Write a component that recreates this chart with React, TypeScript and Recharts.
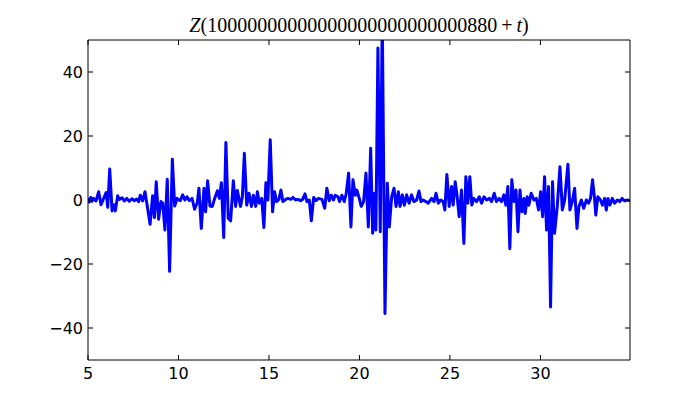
import React from 'react';
import { LineChart, Line, XAxis, YAxis } from 'recharts';

const tValues = [
  5.0, 5.08, 5.15, 5.22, 5.3, 5.44, 5.59, 5.72, 5.85, 6.0, 6.09, 6.2, 6.33, 6.44, 6.51, 6.64, 6.73, 6.88, 7.01, 7.14,
  7.28, 7.43, 7.56, 7.69, 7.8, 7.89, 8.02, 8.15, 8.3, 8.43, 8.57, 8.67, 8.77, 8.9, 9.03, 9.13, 9.25, 9.38, 9.51, 9.66,
  9.79, 9.92, 10.1, 10.23, 10.36, 10.47, 10.6, 10.75, 10.89, 11.04, 11.13, 11.26, 11.41, 11.5, 11.61, 11.74, 11.87, 12.0, 12.15, 12.26,
  12.37, 12.5, 12.62, 12.75, 12.88, 13.03, 13.16, 13.25, 13.43, 13.53, 13.64, 13.77, 13.9, 14.03, 14.14, 14.27, 14.36, 14.47, 14.6, 14.72,
  14.83, 14.94, 15.07, 15.2, 15.31, 15.42, 15.55, 15.66, 15.77, 15.92, 16.05, 16.2, 16.33, 16.47, 16.6, 16.75, 16.86, 16.99, 17.1, 17.23,
  17.34, 17.47, 17.6, 17.74, 17.93, 18.08, 18.2, 18.33, 18.44, 18.57, 18.66, 18.81, 18.9, 19.03, 19.16, 19.27, 19.4, 19.53, 19.64, 19.77,
  19.86, 19.99, 20.1, 20.23, 20.36, 20.49, 20.62, 20.73, 20.84, 20.91, 21.02, 21.15, 21.26, 21.41, 21.54, 21.65, 21.78, 21.91, 22.02, 22.15,
  22.24, 22.37, 22.48, 22.61, 22.74, 22.88, 23.01, 23.16, 23.29, 23.4, 23.52, 23.67, 23.8, 23.99, 24.12, 24.23, 24.36, 24.49, 24.63, 24.72,
  24.83, 24.96, 25.09, 25.18, 25.29, 25.4, 25.51, 25.64, 25.77, 25.88, 25.99, 26.1, 26.21, 26.32, 26.47, 26.62, 26.75, 26.88, 27.03, 27.18,
  27.3, 27.45, 27.57, 27.72, 27.85, 27.98, 28.09, 28.2, 28.31, 28.42, 28.54, 28.65, 28.76, 28.87, 28.98, 29.09, 29.16, 29.27, 29.36, 29.49,
  29.64, 29.77, 29.9, 30.01, 30.12, 30.23, 30.34, 30.45, 30.56, 30.67, 30.78, 30.93, 31.08, 31.21, 31.34, 31.52, 31.63, 31.76, 31.89, 32.02,
  32.13, 32.26, 32.39, 32.54, 32.66, 32.77, 32.88, 32.99, 33.06, 33.17, 33.32, 33.43, 33.55, 33.64, 33.73, 33.84, 33.97, 34.1, 34.25, 34.38,
  34.51, 34.65, 34.8, 34.93,
];

const zValues = [
  0.2, -0.6, 0.8, -0.4, 0.5, -0.3, 2.6, -1.5, 0.3, 2.3, -2.3, 9.7, -3.4, -1.5, -3.4, 1.3, 0.2, 0.7, -0.3, 0.5,
  -0.4, 0.4, -0.2, 0.3, -0.5, 1.5, -0.3, 2.6, -2.8, -7.6, 1.3, -5.5, 5.7, -6, -0.5, -1, -9.4, 6.5, -22.3, 12.7,
  -1.9, 0.5, -0.2, 1.6, 0, 1, -0.2, 0.5, -2.9, -0.8, 3.7, -8.9, 3.7, -3.7, 6, -1.9, -2, 0.5, 2.9, 0.5,
  5.4, -11.7, 18, -5.7, -6.5, 6, -2, 3, -2, 1, 14.6, -1.6, 2.1, -2, 1.5, -2, 2.6, -1, 0.5, -8.6,
  5.4, 0, 18.8, -3.7, 2.6, -0.5, 0.2, 3.1, -0.5, 0.2, 0.5, 0.2, 0.8, 0, 0.2, -0.2, 0.2, 1.9, -0.5, 0,
  -6.5, 0.8, -0.2, 0.5, 0.2, -2.6, 3.7, -0.2, 1.5, 0, 1.5, 1, -0.5, 1.5, -0.5, 2.1, 8.4, -8.4, 6.3, 1.5,
  3.1, 0.5, -2, -0.5, 8.4, -8.4, 16.2, -10.4, 2.1, -9.4, 47.5, -9.9, 58, -35.5, 5.2, -8.4, 1, 3.7, -2, 2.6,
  -2, 1.6, -1.6, 1.6, -1, 1.6, -0.5, 0, 2.8, -0.5, 0, -0.5, -1, 0.5, -0.5, 2.1, -1, 0, -0.5, -3.1,
  8, -2, 4.2, -1.6, 5.7, 1, -5.2, 3.1, -13.6, 7.3, -1, 7.3, -1.6, 0.5, -0.5, 1, -1, 1, 0, 0.5,
  -0.5, 2.1, -0.5, 0.5, -0.5, 1.6, -1.6, 4.2, -15.2, 6.3, -0.5, 3.1, -9.9, 3.1, -3.7, 0.5, -4.2, 1, -1.6, 2.1,
  0, 0.5, -3.1, 2.6, -5.2, 7.3, -9.4, 4.2, -33.4, 5.7, -10.4, -2, 10.4, -3.1, 0, 11.2, -3.1, -0.5, 3.7, -8.9,
  -2, 0, -2.6, 0, -1, 0.5, 6.3, 0.5, -4.7, 1, 0, -1.6, 0.5, -3.1, 0.5, -1.6, 0.5, -1, 0, -0.5,
  0.5, -0.3, 0, -0.2,
];

const xTicks = [5, 10, 15, 20, 25, 30];
const yTicks = [-40, -20, 0, 20, 40];

const data = tValues.map((t, i) => ({ t, z: zValues[i] }));

const tickFont = { fontFamily: 'DejaVu Sans', fontSize: 16, fill: '#000' };
const fmtY = (v: number) => (v < 0 ? '\u2212' + Math.abs(v) : String(v));
const blank = () => '';

export default function App() {
  return (
    <div style={{ position: 'absolute', left: 0, top: 0, width: 700, height: 400, background: '#fff' }}>
      <div
        style={{
          position: 'absolute',
          top: 13,
          left: 0,
          width: 718,
          textAlign: 'center',
          fontFamily: '"Liberation Serif", serif',
          fontSize: 20,
          lineHeight: '24px',
          color: '#000',
        }}
      >
        <i>Z</i>(10000000000000000000000000880&thinsp;+&thinsp;<i>t</i>)
      </div>
      <LineChart width={700} height={400} data={data} margin={{ top: 0, right: 0, bottom: 0, left: 0 }}>
        <XAxis
          dataKey="t"
          type="number"
          domain={[5, 34.95]}
          ticks={xTicks}
          allowDataOverflow
          height={40}
          tickSize={-5}
          tickMargin={13}
          tick={tickFont}
          stroke="#000"
        />
        <XAxis
          xAxisId="top"
          orientation="top"
          dataKey="t"
          type="number"
          domain={[5, 34.95]}
          ticks={xTicks}
          allowDataOverflow
          height={40}
          tickSize={-5}
          tickFormatter={blank}
          stroke="#000"
        />
        <YAxis
          type="number"
          domain={[-50, 50]}
          ticks={yTicks}
          allowDataOverflow
          width={88}
          tickSize={-5}
          tickMargin={10}
          tick={tickFont}
          tickFormatter={fmtY}
          stroke="#000"
        />
        <YAxis
          yAxisId="right"
          orientation="right"
          type="number"
          domain={[-50, 50]}
          ticks={yTicks}
          allowDataOverflow
          width={70}
          tickSize={-5}
          tickFormatter={blank}
          stroke="#000"
        />
        <Line
          type="linear"
          dataKey="z"
          stroke="#0000ff"
          strokeWidth={3}
          strokeLinejoin="round"
          strokeLinecap="round"
          dot={false}
          activeDot={false}
          isAnimationActive={false}
        />
      </LineChart>
    </div>
  );
}
